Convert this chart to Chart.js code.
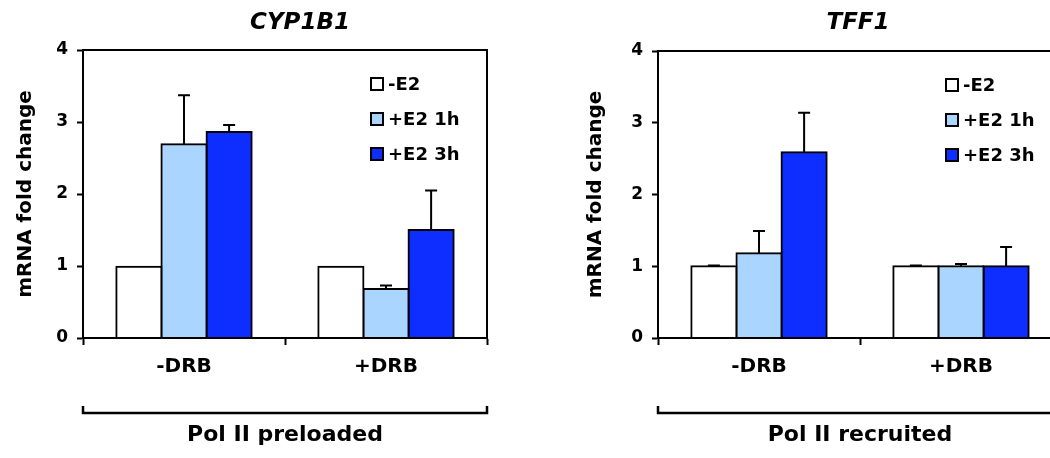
<!DOCTYPE html>
<html>
<head>
<meta charset="utf-8">
<script src="https://cdn.jsdelivr.net/npm/chart.js@4.4.1/dist/chart.umd.min.js"></script>
<style>
  html, body { margin: 0; padding: 0; background: #fff; }
  body { width: 1050px; height: 458px; overflow: hidden; position: relative; }
  .panel { position: absolute; top: 0; height: 458px; }
  #left { left: 0; width: 525px; }
  #right { left: 530px; width: 550px; }
</style>
</head>
<body>
<div class="panel" id="left"><canvas id="chart-cyp"></canvas></div>
<div class="panel" id="right"><canvas id="chart-tff"></canvas></div>
<script>
// data
const categories = ['-DRB', '+DRB'];
const seriesLabels = ['-E2', '+E2 1h', '+E2 3h'];
const seriesColors = ['#ffffff', '#aad5ff', '#0e2eff'];
const yTicks = [0, 1, 2, 3, 4];
const panelTitles = ['CYP1B1', 'TFF1'];
const groupTitles = ['Pol II preloaded', 'Pol II recruited'];
const yTitle = 'mRNA fold change';

const cypNoE2 = [0.99, 0.99];
const cypNoE2Err = [0, 0];
const cypE2h1 = [2.69, 0.68];
const cypE2h1Err = [0.68, 0.05];
const cypE2h3 = [2.86, 1.5];
const cypE2h3Err = [0.1, 0.55];

const tffNoE2 = [1.0, 1.0];
const tffNoE2Err = [0.01, 0.01];
const tffE2h1 = [1.18, 1.0];
const tffE2h1Err = [0.31, 0.03];
const tffE2h3 = [2.59, 1.0];
const tffE2h3Err = [0.55, 0.27];

Chart.defaults.font.family = '"DejaVu Sans", sans-serif';
Chart.defaults.font.weight = 'bold';
Chart.defaults.color = '#000';

// error bars, frame, title, legend and the bracket under the axis
const panelDecor = {
  id: 'panelDecor',
  afterDatasetsDraw(chart) {
    const ctx = chart.ctx;
    const y = chart.scales.y;
    ctx.save();
    ctx.strokeStyle = '#000';
    ctx.lineWidth = 2;
    chart.data.datasets.forEach((ds, i) => {
      chart.getDatasetMeta(i).data.forEach((bar, j) => {
        const err = ds.errors[j];
        if (!err) return;
        const top = y.getPixelForValue(ds.data[j] + err);
        ctx.beginPath();
        ctx.moveTo(bar.x, bar.y);
        ctx.lineTo(bar.x, top);
        ctx.moveTo(bar.x - 6, top);
        ctx.lineTo(bar.x + 6, top);
        ctx.stroke();
      });
    });
    ctx.restore();
  },
  afterDraw(chart, args, opts) {
    const { ctx, chartArea: a } = chart;
    ctx.save();
    ctx.strokeStyle = '#000';
    ctx.fillStyle = '#000';
    ctx.lineWidth = 2;
    ctx.strokeRect(a.left, a.top, a.right - a.left, a.bottom - a.top);

    // panel title
    ctx.font = 'italic bold 23px "DejaVu Sans"';
    ctx.textAlign = 'center';
    ctx.textBaseline = 'middle';
    ctx.fillText(opts.title, (a.left + a.right) / 2 + opts.titleShift, 23);

    // legend inside the plot
    ctx.font = 'bold 18px "DejaVu Sans"';
    ctx.textAlign = 'left';
    const lx = a.right - 117;
    chart.data.datasets.forEach((ds, i) => {
      const ly = a.top + 34 + i * 35;
      ctx.fillStyle = ds.backgroundColor;
      ctx.fillRect(lx, ly - 7, 14, 14);
      ctx.lineWidth = 2;
      ctx.strokeRect(lx + 1, ly - 6, 12, 12);
      ctx.fillStyle = '#000';
      ctx.fillText(ds.label, lx + 18, ly + 1);
    });

    // bracket
    ctx.lineWidth = 2.5;
    ctx.beginPath();
    ctx.moveTo(a.left, a.bottom + 68);
    ctx.lineTo(a.left, a.bottom + 75);
    ctx.lineTo(a.right, a.bottom + 75);
    ctx.lineTo(a.right, a.bottom + 68);
    ctx.stroke();
    ctx.restore();
  }
};

function makePanel(canvasId, p) {
  const datasets = p.values.map((vals, i) => ({
    label: seriesLabels[i],
    data: vals,
    errors: p.errors[i],
    backgroundColor: seriesColors[i],
    borderColor: '#000',
    borderWidth: 2,
    borderSkipped: 'start',
    inflateAmount: 1,
    barPercentage: 1.0,
    categoryPercentage: 0.67
  }));

  return new Chart(document.getElementById(canvasId), {
    type: 'bar',
    data: { labels: categories, datasets },
    plugins: [panelDecor],
    options: {
      responsive: true,
      maintainAspectRatio: false,
      animation: false,
      layout: { padding: { left: p.padLeft, right: p.padRight, top: p.padTop, bottom: 0 } },
      plugins: {
        legend: { display: false },
        tooltip: { enabled: false },
        panelDecor: { title: p.title, titleShift: p.titleShift }
      },
      scales: {
        x: {
          afterFit: s => { s.height = 120; },
          grid: { offset: true, drawOnChartArea: false, tickLength: 7, tickWidth: 2, tickColor: '#000' },
          border: { display: true, color: '#000', width: 2 },
          ticks: { font: { size: 20, weight: 'bold' }, padding: 10 },
          title: {
            display: true,
            text: p.group,
            font: { size: 22, weight: 'bold' },
            padding: { top: 0, bottom: 10 }
          }
        },
        y: {
          min: 0,
          max: 4,
          afterFit: s => { s.width = p.yWidth; },
          afterBuildTicks: s => { s.ticks = yTicks.map(v => ({ value: v })); },
          grid: { drawOnChartArea: false, tickLength: 6, tickWidth: 2, tickColor: '#000' },
          border: { display: true, color: '#000', width: 2 },
          ticks: { font: { size: 17, weight: 'bold' }, padding: 9 },
          title: {
            display: true,
            text: yTitle,
            font: { size: 20, weight: 'bold' },
            padding: 0
          }
        }
      }
    }
  });
}

makePanel('chart-cyp', {
  title: panelTitles[0],
  group: groupTitles[0],
  values: [cypNoE2, cypE2h1, cypE2h3],
  errors: [cypNoE2Err, cypE2h1Err, cypE2h3Err],
  padLeft: 14, padRight: 38, padTop: 50, yWidth: 69, titleShift: 15
});

makePanel('chart-tff', {
  title: panelTitles[1],
  group: groupTitles[1],
  values: [tffNoE2, tffE2h1, tffE2h3],
  errors: [tffNoE2Err, tffE2h1Err, tffE2h3Err],
  padLeft: 54, padRight: 18, padTop: 51, yWidth: 74, titleShift: -2
});
</script>
</body>
</html>
